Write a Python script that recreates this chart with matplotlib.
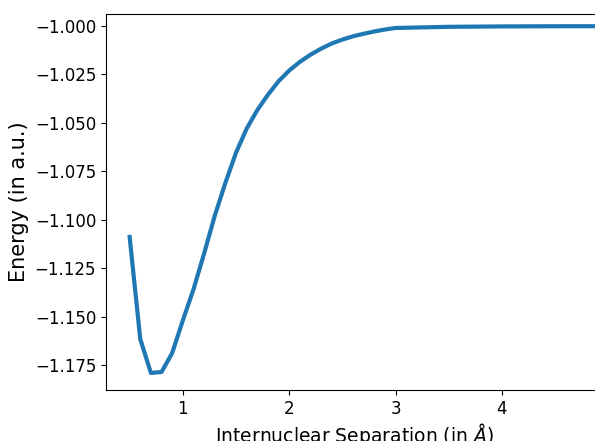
import numpy as np
import matplotlib
matplotlib.use("Agg")
import matplotlib.pyplot as plt

# internuclear separation (angstrom) and energy (a.u.)
separation = [0.5, 0.6, 0.7, 0.8, 0.9, 1.0, 1.1, 1.2, 1.3, 1.4, 1.5, 1.6, 1.7,
              1.8, 1.9, 2.0, 2.1, 2.2, 2.3, 2.4, 2.5, 2.6, 2.7, 2.8, 2.9, 3.0,
              3.5, 4.0, 4.5, 5.0]
energy = [-1.1089, -1.1616, -1.1791, -1.1786, -1.1688, -1.1520, -1.1360,
          -1.1175, -1.0980, -1.0810, -1.0654, -1.0530, -1.0434, -1.0355,
          -1.0285, -1.0230, -1.0185, -1.0148, -1.0117, -1.0090, -1.0070,
          -1.0053, -1.0040, -1.0028, -1.0018, -1.0010, -1.0004, -1.0002,
          -1.0001, -1.0001]
xticks = [1, 2, 3, 4]

fig = plt.figure(figsize=(5.95, 4.41), dpi=100)
# the axes run a little past the right edge of the figure, as in the reference
ax = fig.add_axes([0.178, 0.1156, 0.8336, 0.8526])

ax.plot(separation, energy, linewidth=3, color='#1f77b4')
ax.set_xlim(0.277, 4.94)
ax.set_ylim(-1.1879, -0.9938)
ax.set_xticks(xticks)

ax.set_xlabel(r'Internuclear Separation (in $\AA$)', fontsize=13.5, labelpad=2)
ax.set_ylabel('Energy (in a.u.)', fontsize=15)
ax.tick_params(labelsize=12)

fig.savefig('out.png', dpi=100)
